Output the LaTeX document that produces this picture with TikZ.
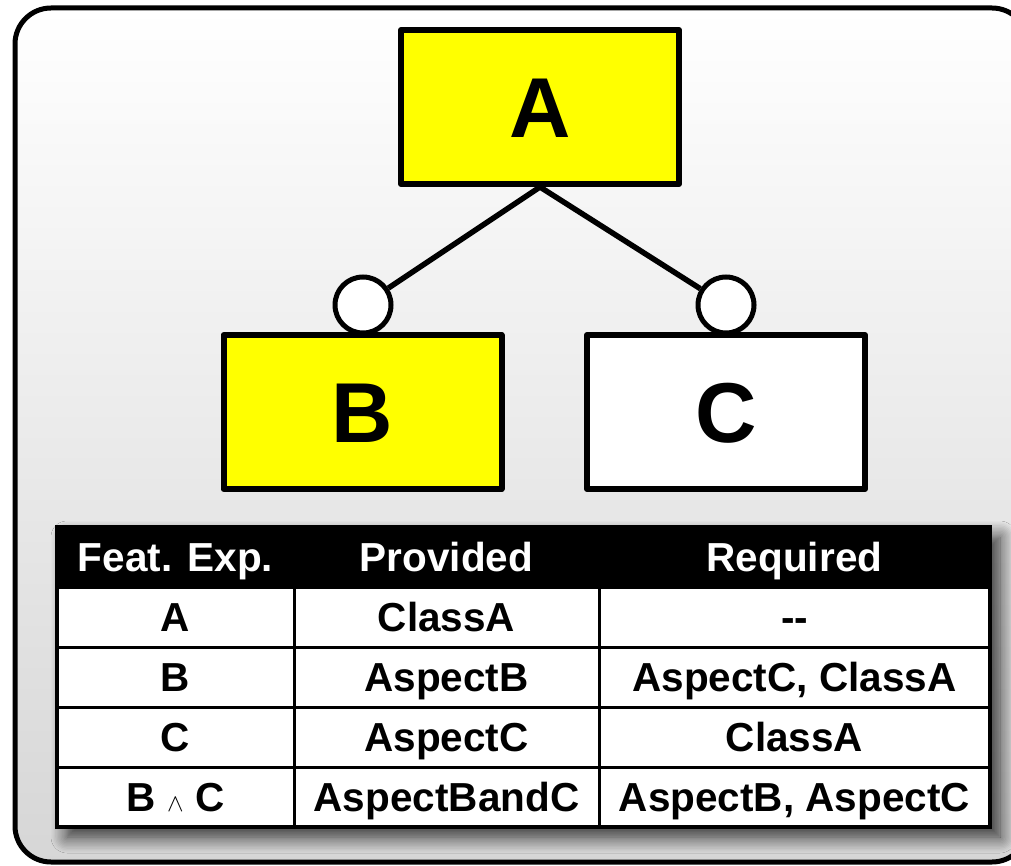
\documentclass[tikz,border=0pt]{standalone}
\usepackage{fontspec}
\setmainfont{Liberation Sans}
\usetikzlibrary{shadows.blur}
\definecolor{featyellow}{RGB}{255,255,0}
\tikzset{
  feat/.style={draw=black, line width=6pt, line join=round, minimum width=278pt, minimum height=154pt, inner sep=0pt, text height=61pt, text depth=0pt, font=\fontsize{85}{85}\selectfont\bfseries},
  selbox/.style={feat, fill=featyellow},
  unselbox/.style={feat, fill=white},
  opt/.style={circle, draw=black, line width=5pt, fill=white, minimum size=56pt, inner sep=0pt},
  link/.style={line width=5.5pt},
  cell/.style={draw=black, line width=3pt, inner sep=0pt, minimum height=60pt, text height=29pt, text depth=0pt, font=\fontsize{40.5}{40.5}\selectfont\bfseries},
  hcell/.style={cell, fill=black, text=white},
  bcell/.style={cell, fill=white},
}
\begin{document}
\begin{tikzpicture}[x=1pt,y=-1pt]
\useasboundingbox (0,0) rectangle (1011,866);
\path[rounded corners=36pt, top color=white, bottom color=black!16, draw=black, line width=5pt]
  (15,8) rectangle (1028,862);
% feature nodes
\node[selbox] (A) at (540,107) {A};
\node[selbox] (B) at (362.5,412) {B};
\node[unselbox] (C) at (726,412) {C};
\node[opt] (oB) at (363,305) {};
\node[opt] (oC) at (726,305) {};
\draw[link] (A.south) -- (oB);
\draw[link] (A.south) -- (oC);
% table shadow
\fill[black, blur shadow={shadow xshift=10pt, shadow yshift=-10pt, shadow blur radius=16pt, shadow opacity=80, shadow blur steps=12}]
  (57,527) rectangle (990,827);
% header
\node[hcell, minimum width=237pt] (h1) at (175.5,557) {Feat. Exp.};
\node[hcell, minimum width=305pt] (h2) at (446.5,557) {Provided};
\node[hcell, minimum width=391pt] (h3) at (794.5,557) {Required};
% rows
\node[bcell, minimum width=237pt] (r1a) at (175.5,617) {A};
\node[bcell, minimum width=305pt] (r1b) at (446.5,617) {ClassA};
\node[bcell, minimum width=391pt] (r1c) at (794.5,617) {-{}-};
\node[bcell, minimum width=237pt] (r2a) at (175.5,677) {B};
\node[bcell, minimum width=305pt] (r2b) at (446.5,677) {AspectB};
\node[bcell, minimum width=391pt] (r2c) at (794.5,677) {AspectC, ClassA};
\node[bcell, minimum width=237pt] (r3a) at (175.5,737) {C};
\node[bcell, minimum width=305pt] (r3b) at (446.5,737) {AspectC};
\node[bcell, minimum width=391pt] (r3c) at (794.5,737) {ClassA};
\node[bcell, minimum width=237pt] (r4a) at (175.5,797) {B {\fontsize{24}{24}\selectfont$\wedge$} C};
\node[bcell, minimum width=305pt] (r4b) at (446.5,797) {AspectBandC};
\node[bcell, minimum width=391pt] (r4c) at (794.5,797) {AspectB, AspectC};
\draw[line width=4pt] (57,527) rectangle (990,827);
\end{tikzpicture}
\end{document}
